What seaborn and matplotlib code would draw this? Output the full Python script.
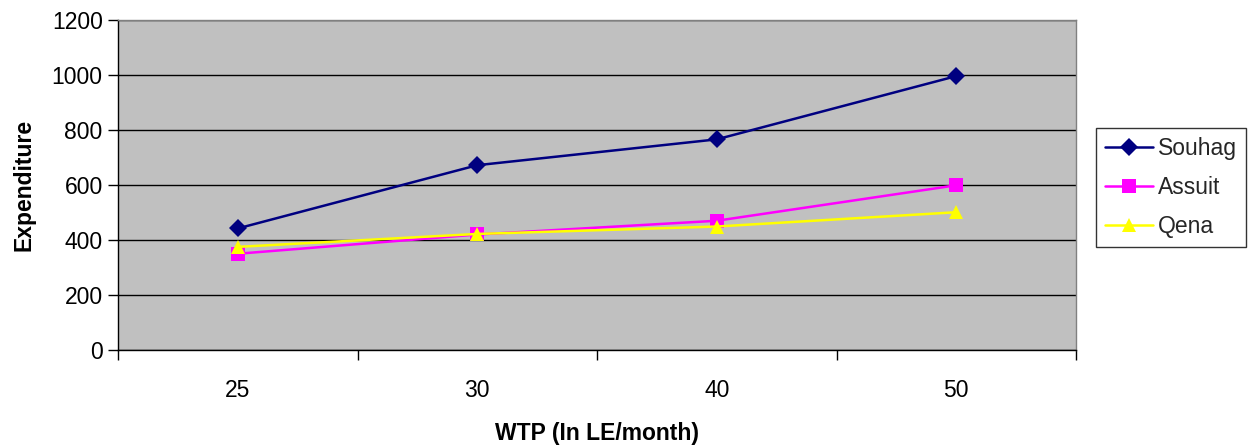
import matplotlib
matplotlib.use("Agg")
import matplotlib.pyplot as plt
import seaborn as sns
import pandas as pd
from matplotlib.ticker import FixedLocator

wtp = ["25", "30", "40", "50"]
souhag = [442, 672, 766, 996]
assuit = [350, 420, 470, 599]
qena = [375, 422, 449, 501]
series_names = ["Souhag", "Assuit", "Qena"]

df = pd.DataFrame({
    "WTP": wtp * 3,
    "Expenditure": souhag + assuit + qena,
    "Region": [series_names[0]] * 4 + [series_names[1]] * 4 + [series_names[2]] * 4,
})

sns.set_theme(style="white")
plt.rcParams["font.family"] = ["Liberation Sans", "DejaVu Sans"]

fig = plt.figure(figsize=(12.56, 4.48), dpi=100)
ax = fig.add_axes([118 / 1256, 98 / 448, (1076 - 118) / 1256, (350 - 20) / 448])
ax.set_facecolor("#C0C0C0")

palette = {"Souhag": "#000080", "Assuit": "#FF00FF", "Qena": "#FFFF00"}
markers = {"Souhag": "D", "Assuit": "s", "Qena": "^"}
sns.lineplot(data=df, x="WTP", y="Expenditure", hue="Region", style="Region",
             palette=palette, markers=markers, dashes=False, markersize=9.5,
             linewidth=1.8, markeredgewidth=0, ax=ax, sort=False)

ax.set_xlim(-0.5, 3.5)
ax.set_ylim(0, 1200)
ax.set_yticks(range(0, 1201, 200))
ax.yaxis.grid(True, color="black", linewidth=1)
ax.set_axisbelow(True)

ax.set_xticks(range(len(wtp)))
ax.set_xticklabels(wtp)
ax.xaxis.set_minor_locator(FixedLocator([-0.5, 0.5, 1.5, 2.5, 3.5]))
ax.tick_params(axis="x", which="major", length=0, pad=21, labelsize=16.5, labelcolor="black")
ax.tick_params(axis="x", which="minor", length=7, width=1, color="black", direction="out", bottom=True)
ax.tick_params(axis="y", length=7, width=1, color="black", direction="out", left=True,
               labelsize=16.5, pad=4, labelcolor="black")

for s in ["top", "right"]:
    ax.spines[s].set_color("#808080")
    ax.spines[s].set_linewidth(1)
for s in ["left", "bottom"]:
    ax.spines[s].set_color("black")
    ax.spines[s].set_linewidth(1)

ax.set_xlabel("WTP (In LE/month)", fontsize=16.5, fontweight="bold", labelpad=14, color="black")
ax.set_ylabel("Expenditure", fontsize=16.5, fontweight="bold", labelpad=12, color="black")

handles, labels = ax.get_legend_handles_labels()
leg = ax.legend(handles, labels, loc="upper left",
                bbox_to_anchor=(1096 / 1256, (448 - 128) / 448),
                bbox_transform=fig.transFigure, frameon=True, fancybox=False,
                edgecolor="black", fontsize=16.5, handlelength=2.1,
                borderpad=0.4, borderaxespad=0, labelspacing=0.7, handletextpad=0.2)
leg.get_frame().set_linewidth(1)

fig.savefig("out.png", dpi=100, facecolor="white")
